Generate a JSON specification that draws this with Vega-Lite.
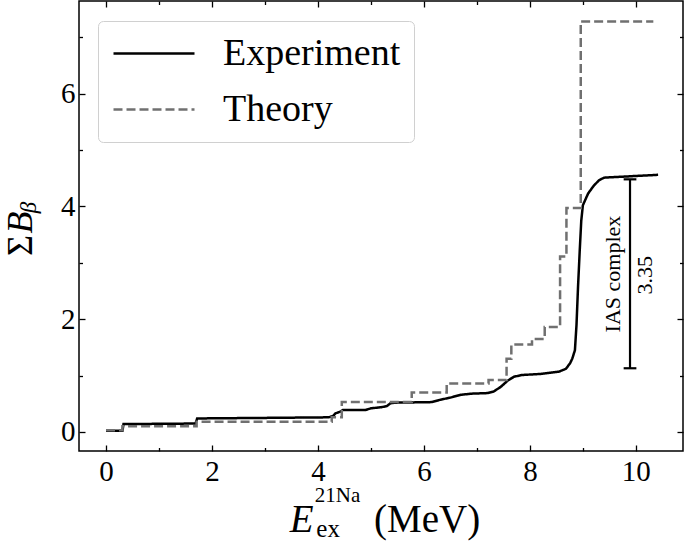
{
  "$schema": "https://vega.github.io/schema/vega-lite/v6.json",
  "width": 604,
  "height": 450,
  "autosize": {"type": "none"},
  "padding": {"left": 79, "top": 1, "right": 2, "bottom": 90},
  "background": "white",
  "config": {
    "font": "Liberation Serif",
    "view": {"stroke": "black", "strokeWidth": 1.5},
    "axis": {
      "domain": false,
      "grid": false,
      "title": null,
      "labelFont": "Liberation Serif",
      "labelFontSize": 29,
      "labelColor": "black",
      "tickColor": "black",
      "tickWidth": 1.3
    },
    "legend": {
      "orient": "none",
      "legendX": 19,
      "legendY": 20,
      "direction": "vertical",
      "symbolType": "stroke",
      "symbolSize": 6561,
      "symbolStrokeWidth": 2.5,
      "symbolOffset": 1,
      "labelFont": "Liberation Serif",
      "labelFontSize": 38,
      "labelColor": "black",
      "labelOffset": 27,
      "labelLimit": 500,
      "padding": 13,
      "strokeColor": "#d0d0d0",
      "fillColor": "white",
      "cornerRadius": 5,
      "clipHeight": 39,
      "rowPadding": 17,
      "title": null
    }
  },
  "datasets": {
    "curves": [
      {"series": "Experiment", "E": 0, "B": 0.02},
      {"series": "Experiment", "E": 0.31, "B": 0.02},
      {"series": "Experiment", "E": 0.33, "B": 0.14},
      {"series": "Experiment", "E": 1.69, "B": 0.15},
      {"series": "Experiment", "E": 1.72, "B": 0.24},
      {"series": "Experiment", "E": 3.0, "B": 0.25},
      {"series": "Experiment", "E": 4.2, "B": 0.26},
      {"series": "Experiment", "E": 4.28, "B": 0.28},
      {"series": "Experiment", "E": 4.33, "B": 0.33},
      {"series": "Experiment", "E": 4.42, "B": 0.36},
      {"series": "Experiment", "E": 4.47, "B": 0.39},
      {"series": "Experiment", "E": 4.9, "B": 0.39},
      {"series": "Experiment", "E": 5.0, "B": 0.42},
      {"series": "Experiment", "E": 5.2, "B": 0.44},
      {"series": "Experiment", "E": 5.3, "B": 0.46},
      {"series": "Experiment", "E": 5.37, "B": 0.51},
      {"series": "Experiment", "E": 5.45, "B": 0.52},
      {"series": "Experiment", "E": 6.15, "B": 0.53},
      {"series": "Experiment", "E": 6.3, "B": 0.57},
      {"series": "Experiment", "E": 6.5, "B": 0.61},
      {"series": "Experiment", "E": 6.7, "B": 0.66},
      {"series": "Experiment", "E": 6.9, "B": 0.68},
      {"series": "Experiment", "E": 7.2, "B": 0.69},
      {"series": "Experiment", "E": 7.32, "B": 0.72},
      {"series": "Experiment", "E": 7.45, "B": 0.8},
      {"series": "Experiment", "E": 7.58, "B": 0.91},
      {"series": "Experiment", "E": 7.7, "B": 0.98},
      {"series": "Experiment", "E": 7.85, "B": 1.01},
      {"series": "Experiment", "E": 8.2, "B": 1.03},
      {"series": "Experiment", "E": 8.55, "B": 1.07},
      {"series": "Experiment", "E": 8.68, "B": 1.12},
      {"series": "Experiment", "E": 8.76, "B": 1.22},
      {"series": "Experiment", "E": 8.8, "B": 1.3},
      {"series": "Experiment", "E": 8.85, "B": 1.45},
      {"series": "Experiment", "E": 8.88, "B": 1.9},
      {"series": "Experiment", "E": 8.91, "B": 2.6},
      {"series": "Experiment", "E": 8.94, "B": 3.2},
      {"series": "Experiment", "E": 8.97, "B": 3.75},
      {"series": "Experiment", "E": 9.0, "B": 4.02},
      {"series": "Experiment", "E": 9.1, "B": 4.23},
      {"series": "Experiment", "E": 9.2, "B": 4.36},
      {"series": "Experiment", "E": 9.3, "B": 4.46},
      {"series": "Experiment", "E": 9.4, "B": 4.51},
      {"series": "Experiment", "E": 10.42, "B": 4.56},
      {"series": "Theory", "E": 0, "B": 0.03},
      {"series": "Theory", "E": 0.31, "B": 0.1},
      {"series": "Theory", "E": 1.71, "B": 0.18},
      {"series": "Theory", "E": 4.26, "B": 0.26},
      {"series": "Theory", "E": 4.45, "B": 0.53},
      {"series": "Theory", "E": 5.77, "B": 0.7},
      {"series": "Theory", "E": 6.43, "B": 0.86},
      {"series": "Theory", "E": 7.22, "B": 0.92},
      {"series": "Theory", "E": 7.56, "B": 1.3},
      {"series": "Theory", "E": 7.65, "B": 1.55},
      {"series": "Theory", "E": 8.04, "B": 1.65},
      {"series": "Theory", "E": 8.28, "B": 1.86},
      {"series": "Theory", "E": 8.57, "B": 3.11},
      {"series": "Theory", "E": 8.69, "B": 3.97},
      {"series": "Theory", "E": 8.96, "B": 7.28},
      {"series": "Theory", "E": 10.33, "B": 7.28}
    ],
    "ias": [{"E": 9.89, "lo": 1.13, "hi": 4.48, "label": "IAS complex", "value": "3.35"}]
  },
  "layer": [
    {
      "data": {"name": "curves"},
      "transform": [{"filter": "datum.series === 'Experiment'"}],
      "mark": {"type": "line", "strokeWidth": 2.5, "interpolate": "linear"},
      "encoding": {
        "x": {
          "field": "E", "type": "quantitative",
          "scale": {"domain": [-0.51, 10.89], "nice": false, "zero": false},
          "axis": {
            "orient": "bottom",
            "values": [0, 1, 2, 3, 4, 5, 6, 7, 8, 9, 10],
            "labelExpr": "datum.value % 2 === 0 ? datum.label : ''",
            "tickSize": {"condition": {"test": "datum.value % 2 === 0", "value": -6}, "value": -3.5},
            "labelPadding": 12
          }
        },
        "y": {
          "field": "B", "type": "quantitative",
          "scale": {"domain": [-0.337, 7.642], "nice": false, "zero": false},
          "axis": {
            "orient": "left",
            "values": [0, 1, 2, 3, 4, 5, 6, 7],
            "labelExpr": "datum.value % 2 === 0 ? datum.label : ''",
            "tickSize": {"condition": {"test": "datum.value % 2 === 0", "value": -6}, "value": -3.5},
            "labelPadding": 10
          }
        },
        "color": {
          "field": "series", "type": "nominal",
          "scale": {"domain": ["Experiment", "Theory"], "range": ["#000000", "#707070"]}
        },
        "strokeDash": {
          "field": "series", "type": "nominal",
          "scale": {"domain": ["Experiment", "Theory"], "range": [[1, 0], [9, 4]]}
        }
      }
    },
    {
      "data": {"name": "curves"},
      "transform": [{"filter": "datum.series === 'Theory'"}],
      "mark": {"type": "line", "strokeWidth": 2.5, "interpolate": "step-after"},
      "encoding": {
        "x": {
          "field": "E", "type": "quantitative",
          "axis": {
            "orient": "top",
            "values": [0, 1, 2, 3, 4, 5, 6, 7, 8, 9, 10],
            "labels": false,
            "tickSize": {"condition": {"test": "datum.value % 2 === 0", "value": -6}, "value": -3.5}
          }
        },
        "y": {
          "field": "B", "type": "quantitative",
          "axis": {
            "orient": "right",
            "values": [0, 1, 2, 3, 4, 5, 6, 7],
            "labels": false,
            "tickSize": {"condition": {"test": "datum.value % 2 === 0", "value": -6}, "value": -3.5}
          }
        },
        "color": {"field": "series", "type": "nominal"},
        "strokeDash": {"field": "series", "type": "nominal"}
      }
    },
    {
      "data": {"name": "ias"},
      "mark": {"type": "rule", "color": "black", "strokeWidth": 2.2},
      "encoding": {
        "x": {"field": "E", "type": "quantitative", "axis": null},
        "y": {"field": "lo", "type": "quantitative", "axis": null},
        "y2": {"field": "hi"}
      }
    },
    {
      "data": {"name": "ias"},
      "mark": {"type": "rule", "color": "black", "strokeWidth": 2.2},
      "encoding": {
        "x": {"datum": 9.77, "type": "quantitative", "axis": null},
        "x2": {"datum": 10.01},
        "y": {"field": "lo", "type": "quantitative", "axis": null}
      }
    },
    {
      "data": {"name": "ias"},
      "mark": {"type": "rule", "color": "black", "strokeWidth": 2.2},
      "encoding": {
        "x": {"datum": 9.77, "type": "quantitative", "axis": null},
        "x2": {"datum": 10.01},
        "y": {"field": "hi", "type": "quantitative", "axis": null}
      }
    },
    {
      "data": {"name": "ias"},
      "mark": {"type": "text", "angle": 270, "align": "center", "baseline": "alphabetic", "fontSize": 22, "color": "black", "font": "Liberation Serif"},
      "encoding": {
        "x": {"datum": 9.7, "type": "quantitative", "axis": null},
        "y": {"datum": 2.8, "type": "quantitative", "axis": null},
        "text": {"field": "label"}
      }
    },
    {
      "data": {"name": "ias"},
      "mark": {"type": "text", "angle": 270, "align": "center", "baseline": "alphabetic", "fontSize": 22, "color": "black", "font": "Liberation Serif"},
      "encoding": {
        "x": {"datum": 10.3, "type": "quantitative", "axis": null},
        "y": {"datum": 2.78, "type": "quantitative", "axis": null},
        "text": {"field": "value"}
      }
    },
    {
      "data": {"values": [{"t": "E"}]},
      "mark": {"type": "text", "align": "left", "baseline": "alphabetic", "fontSize": 39, "fontStyle": "italic", "color": "black", "font": "Liberation Serif"},
      "encoding": {
        "x": {"datum": 3.47, "type": "quantitative", "axis": null},
        "y": {"datum": -1.768, "type": "quantitative", "axis": null},
        "text": {"field": "t"}
      }
    },
    {
      "data": {"values": [{"t": "21Na"}]},
      "mark": {"type": "text", "align": "left", "baseline": "alphabetic", "fontSize": 21, "color": "black", "font": "Liberation Serif"},
      "encoding": {
        "x": {"datum": 3.94, "type": "quantitative", "axis": null},
        "y": {"datum": -1.25, "type": "quantitative", "axis": null},
        "text": {"field": "t"}
      }
    },
    {
      "data": {"values": [{"t": "ex"}]},
      "mark": {"type": "text", "align": "left", "baseline": "alphabetic", "fontSize": 25, "color": "black", "font": "Liberation Serif"},
      "encoding": {
        "x": {"datum": 3.97, "type": "quantitative", "axis": null},
        "y": {"datum": -1.86, "type": "quantitative", "axis": null},
        "text": {"field": "t"}
      }
    },
    {
      "data": {"values": [{"t": "(MeV)"}]},
      "mark": {"type": "text", "align": "left", "baseline": "alphabetic", "fontSize": 39, "color": "black", "font": "Liberation Serif"},
      "encoding": {
        "x": {"datum": 5.06, "type": "quantitative", "axis": null},
        "y": {"datum": -1.768, "type": "quantitative", "axis": null},
        "text": {"field": "t"}
      }
    },
    {
      "data": {"values": [{"t": "Σ"}]},
      "mark": {"type": "text", "angle": 270, "align": "left", "baseline": "alphabetic", "fontSize": 36, "color": "black", "font": "Liberation Serif"},
      "encoding": {
        "x": {"datum": -1.396, "type": "quantitative", "axis": null},
        "y": {"datum": 3.12, "type": "quantitative", "axis": null},
        "text": {"field": "t"}
      }
    },
    {
      "data": {"values": [{"t": "B"}]},
      "mark": {"type": "text", "angle": 270, "align": "left", "baseline": "alphabetic", "fontSize": 36, "fontStyle": "italic", "color": "black", "font": "Liberation Serif"},
      "encoding": {
        "x": {"datum": -1.396, "type": "quantitative", "axis": null},
        "y": {"datum": 3.52, "type": "quantitative", "axis": null},
        "text": {"field": "t"}
      }
    },
    {
      "data": {"values": [{"t": "β"}]},
      "mark": {"type": "text", "angle": 270, "align": "left", "baseline": "alphabetic", "fontSize": 23, "fontStyle": "italic", "color": "black", "font": "Liberation Serif"},
      "encoding": {
        "x": {"datum": -1.32, "type": "quantitative", "axis": null},
        "y": {"datum": 3.88, "type": "quantitative", "axis": null},
        "text": {"field": "t"}
      }
    }
  ]
}
